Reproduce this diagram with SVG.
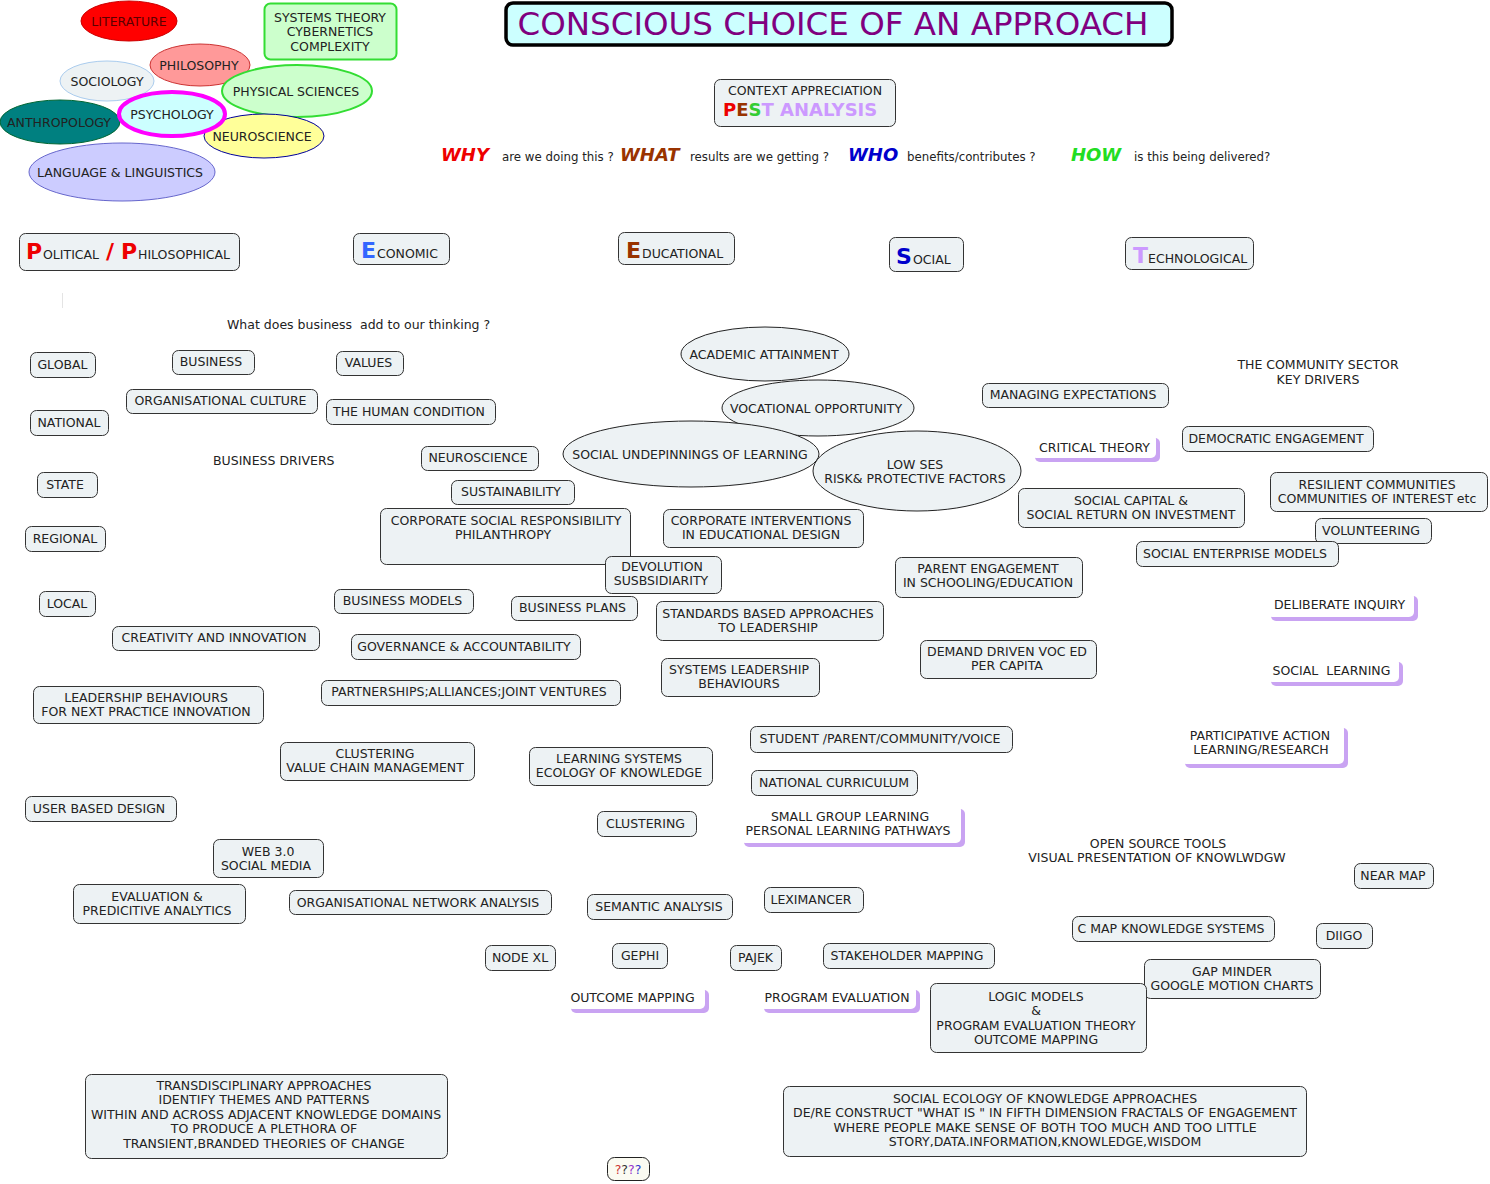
<svg xmlns="http://www.w3.org/2000/svg" width="1490" height="1184" viewBox="0 0 1490 1184">
<style>
.t{font-family:"DejaVu Sans",Verdana,sans-serif;font-size:12.5px;fill:#222}
.s{font-size:11.8px}
.c{text-anchor:middle}
.n{fill:#edf2f4;stroke:#333;stroke-width:1}
.e{fill:#edf2f4;stroke:#222;stroke-width:1}
.sh{fill:#c9a3f2}
.wb{fill:#fff}
.big{font-weight:bold;font-size:22px}
.q{font-weight:bold;font-style:italic;font-size:18px}
</style>
<rect width="1490" height="1184" fill="#fff"/>
<g id="connectors">
<line x1="62.5" y1="293" x2="62.5" y2="308" stroke="#e4e4e4" stroke-width="1"/>
</g>

<g id="literature"><ellipse cx="129" cy="21" rx="48" ry="20" fill="#f00" stroke="#c00"/><text class="t c" x="129" y="26" style="fill:#5a0000">LITERATURE</text></g>
<g id="systems-theory"><rect x="264.5" y="3.5" width="132" height="56" rx="6" fill="#ccffcc" stroke="#33dd33" stroke-width="2"/><text class="t c" x="330" y="22">SYSTEMS THEORY</text><text class="t c" x="330" y="36">CYBERNETICS</text><text class="t c" x="330" y="51">COMPLEXITY</text></g>
<g id="philosophy"><ellipse cx="200" cy="65" rx="50" ry="21" fill="#ff9999" stroke="#cc3333"/><text class="t c" x="199" y="70">PHILOSOPHY</text></g>
<g id="physical-sciences"><ellipse cx="297" cy="91" rx="75" ry="26" fill="#ccffcc" stroke="#33dd33" stroke-width="2"/><text class="t c" x="296" y="96">PHYSICAL SCIENCES</text></g>
<g id="sociology"><ellipse cx="107" cy="81" rx="47" ry="20" fill="#edf2f4" stroke="#aaccee"/><text class="t c" x="107" y="86">SOCIOLOGY</text></g>
<g id="anthropology"><ellipse cx="60" cy="122" rx="60" ry="22" fill="#008080" stroke="#063"/><text class="t c" x="59" y="127">ANTHROPOLOGY</text></g>
<g id="language"><ellipse cx="122" cy="172" rx="93" ry="29" fill="#ccccff" stroke="#6666cc"/><text class="t c" x="120" y="177">LANGUAGE &amp; LINGUISTICS</text></g>
<g id="neuroscience-1"><ellipse cx="264" cy="136" rx="60" ry="22" fill="#ffff99" stroke="#000099"/><text class="t c" x="262" y="141">NEUROSCIENCE</text></g>
<g id="psychology"><ellipse cx="172" cy="114" rx="53" ry="22" fill="#ccffff" stroke="#ff00ff" stroke-width="4"/><text class="t c" x="172" y="119">PSYCHOLOGY</text></g>

<g id="title"><rect x="506" y="3" width="666" height="42" rx="7" fill="#ccffff" stroke="#000" stroke-width="3.5"/><text x="833" y="35" text-anchor="middle" style="font-family:'DejaVu Sans',Verdana,sans-serif;font-size:32.5px;fill:#800080">CONSCIOUS CHOICE OF AN APPROACH</text></g>

<g id="context"><rect x="714.5" y="79.5" width="181" height="47" rx="6" class="n"/><text class="t c" x="805" y="95">CONTEXT APPRECIATION</text><text x="723" y="116" style="font-family:'DejaVu Sans',Verdana,sans-serif;font-size:18px;font-weight:bold"><tspan fill="#ee0000">P</tspan><tspan fill="#993300">E</tspan><tspan fill="#33cc33">S</tspan><tspan fill="#cc99ff">T ANALYSIS</tspan></text></g>

<g id="questions" style="font-family:'DejaVu Sans',Verdana,sans-serif">
<text class="q" x="441" y="161" fill="#ee0000">WHY</text>
<text class="t s" x="502" y="161">are we doing this ?</text>
<text class="q" x="620" y="161" fill="#993300">WHAT</text>
<text class="t s" x="690" y="161">results are we getting ?</text>
<text class="q" x="848" y="161" fill="#0000cc">WHO</text>
<text class="t s" x="907" y="161">benefits/contributes ?</text>
<text class="q" x="1071" y="161" fill="#22dd22">HOW</text>
<text class="t s" x="1134" y="161">is this being delivered?</text>
</g>

<g id="political"><rect x="19.5" y="233.5" width="220" height="37" rx="6" class="n"/><text class="t" y="259"><tspan x="26" class="big" fill="#ee0000">P</tspan><tspan x="43">OLITICAL</tspan><tspan x="106" class="big" fill="#ee0000">/</tspan><tspan x="121" class="big" fill="#ee0000">P</tspan><tspan x="138">HILOSOPHICAL</tspan></text></g>
<g id="economic"><rect x="353.5" y="233.5" width="96" height="31" rx="6" class="n"/><text class="t" y="258"><tspan x="361" class="big" fill="#3366ff">E</tspan><tspan x="377">CONOMIC</tspan></text></g>
<g id="educational"><rect x="618.5" y="232.5" width="116" height="32" rx="6" class="n"/><text class="t" y="258"><tspan x="626" class="big" fill="#993300">E</tspan><tspan x="642">DUCATIONAL</tspan></text></g>
<g id="social"><rect x="889.5" y="237.5" width="74" height="34" rx="6" class="n"/><text class="t" y="264"><tspan x="896" class="big" fill="#0000cc">S</tspan><tspan x="913">OCIAL</tspan></text></g>
<g id="technological"><rect x="1125.5" y="237.5" width="128" height="32" rx="6" class="n"/><text class="t" y="263"><tspan x="1133" class="big" fill="#cc99ff">T</tspan><tspan x="1148">ECHNOLOGICAL</tspan></text></g>

<g id="labels">
<text class="t" x="227" y="329" xml:space="preserve">What does business  add to our thinking ?</text>
<text class="t" x="213" y="465">BUSINESS DRIVERS</text>
<text class="t c" x="1318" y="369">THE COMMUNITY SECTOR</text>
<text class="t c" x="1318" y="384">KEY DRIVERS</text>
<text class="t c" x="1158" y="848">OPEN SOURCE TOOLS</text>
<text class="t c" x="1157" y="862">VISUAL PRESENTATION OF KNOWLWDGW</text>
</g>

<g id="global"><rect x="30.5" y="352.5" width="65" height="25" rx="6" class="n"/><text class="t c" x="62.5" y="369">GLOBAL</text></g>
<g id="business"><rect x="172.5" y="350.5" width="82" height="24" rx="6" class="n"/><text class="t c" x="211" y="366">BUSINESS</text></g>
<g id="values"><rect x="336.5" y="351.5" width="67" height="24" rx="6" class="n"/><text class="t c" x="368.5" y="367">VALUES</text></g>
<g id="org-culture"><rect x="126.5" y="389.5" width="191" height="24" rx="6" class="n"/><text class="t c" x="220.5" y="405">ORGANISATIONAL CULTURE</text></g>
<g id="human-condition"><rect x="326.5" y="399.5" width="169" height="25" rx="6" class="n"/><text class="t c" x="409" y="416">THE HUMAN CONDITION</text></g>
<g id="national"><rect x="30.5" y="410.5" width="78" height="25" rx="6" class="n"/><text class="t c" x="69" y="427">NATIONAL</text></g>
<g id="neuroscience-2"><rect x="421.5" y="446.5" width="117" height="24" rx="6" class="n"/><text class="t c" x="478" y="462">NEUROSCIENCE</text></g>
<g id="state"><rect x="37.5" y="472.5" width="60" height="25" rx="6" class="n"/><text class="t c" x="65" y="489">STATE</text></g>
<g id="sustainability"><rect x="451.5" y="480.5" width="123" height="24" rx="6" class="n"/><text class="t c" x="511" y="496">SUSTAINABILITY</text></g>
<g id="csr"><rect x="380.5" y="508.5" width="250" height="56" rx="6" class="n"/><text class="t c" x="506" y="525">CORPORATE SOCIAL RESPONSIBILITY</text><text class="t c" x="503" y="539">PHILANTHROPY</text></g>
<g id="corporate-interventions"><rect x="663.5" y="509.5" width="200" height="38" rx="6" class="n"/><text class="t c" x="761" y="525">CORPORATE INTERVENTIONS</text><text class="t c" x="761" y="539">IN EDUCATIONAL DESIGN</text></g>
<g id="devolution"><rect x="605.5" y="556.5" width="116" height="37" rx="6" class="n"/><text class="t c" x="662" y="571">DEVOLUTION</text><text class="t c" x="661" y="585">SUSBSIDIARITY</text></g>
<g id="regional"><rect x="25.5" y="526.5" width="80" height="25" rx="6" class="n"/><text class="t c" x="65" y="543">REGIONAL</text></g>
<g id="local"><rect x="39.5" y="591.5" width="56" height="25" rx="6" class="n"/><text class="t c" x="67" y="608">LOCAL</text></g>
<g id="business-models"><rect x="334.5" y="589.5" width="139" height="24" rx="6" class="n"/><text class="t c" x="402.5" y="605">BUSINESS MODELS</text></g>
<g id="business-plans"><rect x="511.5" y="596.5" width="126" height="24" rx="6" class="n"/><text class="t c" x="572.5" y="612">BUSINESS PLANS</text></g>
<g id="standards"><rect x="656.5" y="601.5" width="227" height="39" rx="6" class="n"/><text class="t c" x="768" y="618">STANDARDS BASED APPROACHES</text><text class="t c" x="768" y="632">TO LEADERSHIP</text></g>
<g id="creativity"><rect x="112.5" y="626.5" width="207" height="24" rx="6" class="n"/><text class="t c" x="214" y="642">CREATIVITY AND INNOVATION</text></g>
<g id="governance"><rect x="351.5" y="634.5" width="229" height="25" rx="6" class="n"/><text class="t c" x="464" y="651">GOVERNANCE &amp; ACCOUNTABILITY</text></g>
<g id="parent-engagement"><rect x="895.5" y="557.5" width="187" height="40" rx="6" class="n"/><text class="t c" x="988" y="573">PARENT ENGAGEMENT</text><text class="t c" x="988" y="587">IN SCHOOLING/EDUCATION</text></g>
<g id="demand-driven"><rect x="920.5" y="640.5" width="176" height="38" rx="6" class="n"/><text class="t c" x="1007" y="656">DEMAND DRIVEN VOC ED</text><text class="t c" x="1007" y="670">PER CAPITA</text></g>
<g id="systems-leadership"><rect x="661.5" y="658.5" width="158" height="38" rx="6" class="n"/><text class="t c" x="739" y="674">SYSTEMS LEADERSHIP</text><text class="t c" x="739" y="688">BEHAVIOURS</text></g>
<g id="partnerships"><rect x="321.5" y="680.5" width="299" height="25" rx="6" class="n"/><text class="t c" x="469" y="696">PARTNERSHIPS;ALLIANCES;JOINT VENTURES</text></g>
<g id="leadership-behaviours"><rect x="33.5" y="686.5" width="230" height="37" rx="6" class="n"/><text class="t c" x="146" y="702">LEADERSHIP BEHAVIOURS</text><text class="t c" x="146" y="716">FOR NEXT PRACTICE INNOVATION</text></g>
<g id="student-voice"><rect x="750.5" y="726.5" width="262" height="26" rx="6" class="n"/><text class="t c" x="880" y="743">STUDENT /PARENT/COMMUNITY/VOICE</text></g>
<g id="clustering-value"><rect x="280.5" y="742.5" width="194" height="38" rx="6" class="n"/><text class="t c" x="375" y="758">CLUSTERING</text><text class="t c" x="375" y="772">VALUE CHAIN MANAGEMENT</text></g>
<g id="learning-systems"><rect x="529.5" y="747.5" width="183" height="38" rx="6" class="n"/><text class="t c" x="619" y="763">LEARNING SYSTEMS</text><text class="t c" x="619" y="777">ECOLOGY OF KNOWLEDGE</text></g>
<g id="national-curriculum"><rect x="751.5" y="770.5" width="166" height="25" rx="6" class="n"/><text class="t c" x="834" y="787">NATIONAL CURRICULUM</text></g>
<g id="user-based-design"><rect x="25.5" y="796.5" width="151" height="25" rx="6" class="n"/><text class="t c" x="99" y="813">USER BASED DESIGN</text></g>
<g id="clustering"><rect x="597.5" y="811.5" width="99" height="25" rx="6" class="n"/><text class="t c" x="645.5" y="828">CLUSTERING</text></g>
<g id="web30"><rect x="213.5" y="839.5" width="110" height="38" rx="6" class="n"/><text class="t c" x="268" y="856">WEB 3.0</text><text class="t c" x="266" y="870">SOCIAL MEDIA</text></g>
<g id="evaluation"><rect x="73.5" y="884.5" width="172" height="39" rx="6" class="n"/><text class="t c" x="157" y="901">EVALUATION &amp;</text><text class="t c" x="157" y="915">PREDICITIVE ANALYTICS</text></g>
<g id="ona"><rect x="289.5" y="890.5" width="262" height="24" rx="6" class="n"/><text class="t c" x="418" y="907">ORGANISATIONAL NETWORK ANALYSIS</text></g>
<g id="semantic"><rect x="587.5" y="894.5" width="145" height="25" rx="6" class="n"/><text class="t c" x="659" y="911">SEMANTIC ANALYSIS</text></g>
<g id="leximancer"><rect x="764.5" y="887.5" width="99" height="25" rx="6" class="n"/><text class="t c" x="811" y="904">LEXIMANCER</text></g>
<g id="cmap"><rect x="1072.5" y="916.5" width="202" height="25" rx="6" class="n"/><text class="t c" x="1171" y="933">C MAP KNOWLEDGE SYSTEMS</text></g>
<g id="near-map"><rect x="1354.5" y="863.5" width="79" height="25" rx="6" class="n"/><text class="t c" x="1393" y="880">NEAR MAP</text></g>
<g id="diigo"><rect x="1316.5" y="923.5" width="56" height="25" rx="6" class="n"/><text class="t c" x="1344" y="940">DIIGO</text></g>
<g id="nodexl"><rect x="485.5" y="945.5" width="70" height="25" rx="6" class="n"/><text class="t c" x="520" y="962">NODE XL</text></g>
<g id="gephi"><rect x="612.5" y="943.5" width="55" height="25" rx="6" class="n"/><text class="t c" x="640" y="960">GEPHI</text></g>
<g id="pajek"><rect x="730.5" y="945.5" width="51" height="25" rx="6" class="n"/><text class="t c" x="755.5" y="962">PAJEK</text></g>
<g id="stakeholder"><rect x="823.5" y="943.5" width="171" height="25" rx="6" class="n"/><text class="t c" x="907" y="960">STAKEHOLDER MAPPING</text></g>
<g id="gapminder"><rect x="1144.5" y="959.5" width="176" height="39" rx="6" class="n"/><text class="t c" x="1232" y="976">GAP MINDER</text><text class="t c" x="1232" y="990">GOOGLE MOTION CHARTS</text></g>
<g id="logic-models"><rect x="930.5" y="983.5" width="216" height="69" rx="6" class="n"/><text class="t c" x="1036" y="1001">LOGIC MODELS</text><text class="t c" x="1036" y="1015">&amp;</text><text class="t c" x="1036" y="1030">PROGRAM EVALUATION THEORY</text><text class="t c" x="1036" y="1044">OUTCOME MAPPING</text></g>
<g id="transdisciplinary"><rect x="85.5" y="1074.5" width="362" height="84" rx="6" class="n"/><text class="t c" x="264" y="1090">TRANSDISCIPLINARY APPROACHES</text><text class="t c" x="264" y="1104">IDENTIFY THEMES AND PATTERNS</text><text class="t c" x="266" y="1119">WITHIN AND ACROSS ADJACENT KNOWLEDGE DOMAINS</text><text class="t c" x="264" y="1133">TO PRODUCE A PLETHORA OF</text><text class="t c" x="264" y="1148">TRANSIENT,BRANDED THEORIES OF CHANGE</text></g>
<g id="social-ecology"><rect x="783.5" y="1086.5" width="523" height="70" rx="6" class="n"/><text class="t c" x="1045" y="1103">SOCIAL ECOLOGY OF KNOWLEDGE APPROACHES</text><text class="t c" x="1045" y="1117">DE/RE CONSTRUCT "WHAT IS " IN  FIFTH DIMENSION FRACTALS OF ENGAGEMENT</text><text class="t c" x="1045" y="1132">WHERE PEOPLE MAKE SENSE OF BOTH  TOO MUCH AND TOO LITTLE</text><text class="t c" x="1045" y="1146">STORY,DATA.INFORMATION,KNOWLEDGE,WISDOM</text></g>
<g id="question-marks"><rect x="607.5" y="1157.5" width="42" height="23" rx="7" fill="#fbfbf2" stroke="#222"/><text class="t c" x="628" y="1174"><tspan fill="#cc3333">?</tspan><tspan fill="#333">?</tspan><tspan fill="#9933cc">?</tspan><tspan fill="#3333cc">?</tspan></text></g>

<g id="managing-expectations"><rect x="982.5" y="383.5" width="186" height="24" rx="6" class="n"/><text class="t c" x="1073" y="399">MANAGING EXPECTATIONS</text></g>
<g id="democratic"><rect x="1182.5" y="426.5" width="191" height="25" rx="6" class="n"/><text class="t c" x="1276" y="443">DEMOCRATIC ENGAGEMENT</text></g>
<g id="resilient"><rect x="1270.5" y="472.5" width="217" height="39" rx="6" class="n"/><text class="t c" x="1377" y="489">RESILIENT COMMUNITIES</text><text class="t c" x="1377" y="503">COMMUNITIES OF INTEREST etc</text></g>
<g id="social-capital"><rect x="1018.5" y="488.5" width="226" height="39" rx="6" class="n"/><text class="t c" x="1131" y="505">SOCIAL CAPITAL &amp;</text><text class="t c" x="1131" y="519">SOCIAL RETURN ON INVESTMENT</text></g>
<g id="volunteering"><rect x="1315.5" y="518.5" width="116" height="25" rx="6" class="n"/><text class="t c" x="1371" y="535">VOLUNTEERING</text></g>
<g id="social-enterprise"><rect x="1136.5" y="541.5" width="202" height="25" rx="6" class="n"/><text class="t c" x="1235" y="558">SOCIAL ENTERPRISE MODELS</text></g>

<g id="academic"><ellipse cx="765" cy="354" rx="84" ry="27" class="e"/><text class="t c" x="764" y="359">ACADEMIC ATTAINMENT</text></g>
<g id="vocational"><ellipse cx="818" cy="408" rx="96" ry="28" class="e"/><text class="t c" x="816" y="413">VOCATIONAL OPPORTUNITY</text></g>
<g id="social-undepinnings"><ellipse cx="691" cy="454" rx="128" ry="33" class="e"/><text class="t c" x="690" y="459">SOCIAL UNDEPINNINGS OF LEARNING</text></g>
<g id="low-ses"><ellipse cx="917" cy="471" rx="104" ry="40" class="e"/><text class="t c" x="915" y="469">LOW SES</text><text class="t c" x="915" y="483">RISK&amp; PROTECTIVE FACTORS</text></g>

<g id="critical-theory"><rect x="1035" y="438" width="125" height="24" rx="5" class="sh"/><rect x="1031" y="434" width="125" height="24" rx="5" class="wb"/><text class="t c" x="1094.5" y="452">CRITICAL THEORY</text></g>
<g id="deliberate-inquiry"><rect x="1271" y="596" width="147" height="25" rx="5" class="sh"/><rect x="1267" y="592" width="147" height="25" rx="5" class="wb"/><text class="t c" x="1339.5" y="609">DELIBERATE INQUIRY</text></g>
<g id="social-learning"><rect x="1271" y="662" width="132" height="24" rx="5" class="sh"/><rect x="1267" y="658" width="132" height="24" rx="5" class="wb"/><text class="t c" x="1331.5" y="675" xml:space="preserve">SOCIAL  LEARNING</text></g>
<g id="participative"><rect x="1185" y="728" width="163" height="40" rx="5" class="sh"/><rect x="1181" y="724" width="163" height="40" rx="5" class="wb"/><text class="t c" x="1260" y="740">PARTICIPATIVE ACTION</text><text class="t c" x="1261" y="754">LEARNING/RESEARCH</text></g>
<g id="small-group"><rect x="744" y="809" width="221" height="38" rx="5" class="sh"/><rect x="740" y="805" width="221" height="38" rx="5" class="wb"/><text class="t c" x="850" y="821">SMALL GROUP LEARNING</text><text class="t c" x="848" y="835">PERSONAL LEARNING PATHWAYS</text></g>
<g id="outcome-mapping"><rect x="571" y="990" width="138" height="23" rx="5" class="sh"/><rect x="567" y="986" width="138" height="23" rx="5" class="wb"/><text class="t c" x="632.5" y="1002">OUTCOME MAPPING</text></g>
<g id="program-evaluation"><rect x="764" y="990" width="156" height="23" rx="5" class="sh"/><rect x="760" y="986" width="156" height="23" rx="5" class="wb"/><text class="t c" x="837" y="1002">PROGRAM EVALUATION</text></g>
</svg>
